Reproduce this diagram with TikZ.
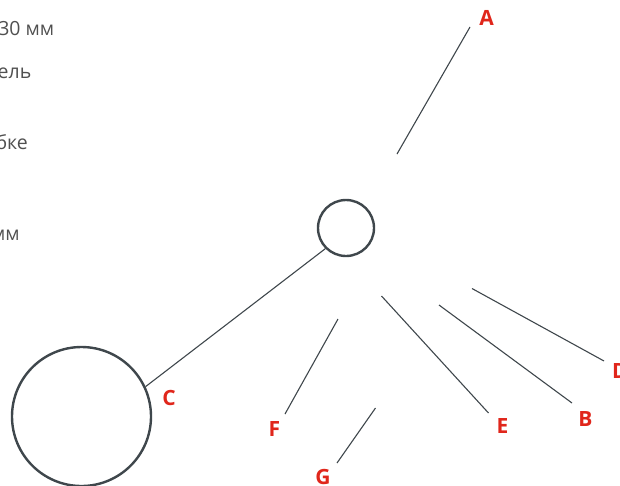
\documentclass[tikz,border=0pt]{standalone}
\usepackage{fontspec}
\setmainfont{Open Sans}
\definecolor{txtgray}{HTML}{505050}
\definecolor{linegray}{HTML}{3F474C}
\definecolor{labred}{HTML}{E0261B}
\begin{document}
\begin{tikzpicture}[x=1pt,y=-1pt,
  ring/.style={draw=linegray,line width=2.4pt,circle,inner sep=0pt},
  lead/.style={draw=linegray,line width=1.1pt},
  lab/.style={text=labred,font=\fontsize{21}{24}\selectfont\bfseries,inner sep=0pt},
  side/.style={text=txtgray,font=\fontsize{19.5}{22}\selectfont,inner sep=0pt,anchor=base east}]
\useasboundingbox (0,0) rectangle (620,485);
% left clipped texts
\node[side] (t1) at (54.5,35) {30 мм};
\node[side] (t2) at (31.5,78) {ель};
\node[side] (t3) at (28,149) {бке};
\node[side] (t4) at (20,240) {мм};
% circles
\node[ring,minimum size=56pt] (small) at (346,228) {};
\node[ring,minimum size=139pt] (big) at (81.5,416.5) {};
% leader end points
\coordinate (a1) at (470,27);  \coordinate (a2) at (397,154);
\coordinate (f1) at (338,319); \coordinate (f2) at (285,414);
\coordinate (g1) at (375.5,408); \coordinate (g2) at (337,463);
\coordinate (e1) at (381.5,296); \coordinate (e2) at (488.5,413);
\coordinate (b1) at (439,305); \coordinate (b2) at (572,403);
\coordinate (d1) at (472,288.5); \coordinate (d2) at (604,361);
% labels
\node[lab] (A) at (486.5,18) {A};
\node[lab] (C) at (169,398) {C};
\node[lab] (F) at (274.5,429) {F};
\node[lab] (G) at (323,477) {G};
\node[lab] (E) at (502.5,426) {E};
\node[lab] (B) at (585.5,419) {B};
\node[lab] (D) at (620,371) {D};
% leaders
\draw[lead] (a1) -- (a2);
\draw[lead] (small.225) -- (big.25);
\draw[lead] (f1) -- (f2);
\draw[lead] (g1) -- (g2);
\draw[lead] (e1) -- (e2);
\draw[lead] (b1) -- (b2);
\draw[lead] (d1) -- (d2);
\end{tikzpicture}
\end{document}
